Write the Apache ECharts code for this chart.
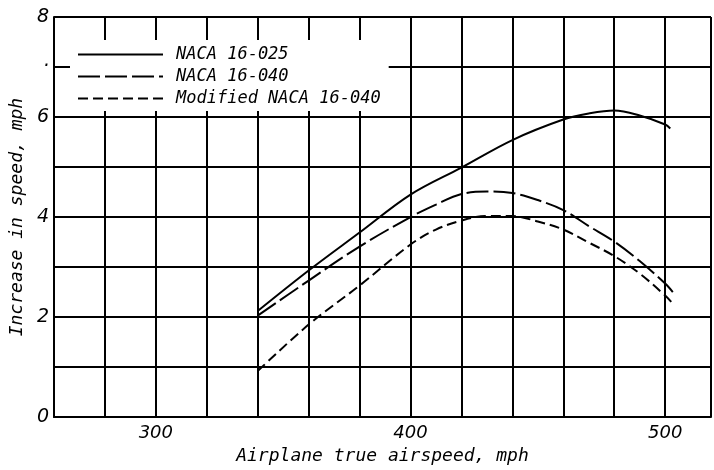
<!DOCTYPE html>
<html><head><meta charset="utf-8">
<script src="https://cdn.jsdelivr.net/npm/echarts@6/dist/echarts.min.js"></script>
<style>html,body{margin:0;padding:0;background:#fff}#c{width:714px;height:470px}</style>
</head><body><div id="c"></div>
<script>
const seriesNames = ['NACA 16-025', 'NACA 16-040', 'Modified NACA 16-040'];
const speed025 = [340, 360, 380, 400, 420, 440, 460, 470, 480, 490, 500, 502];
const inc025   = [2.12, 2.93, 3.69, 4.45, 4.99, 5.54, 5.95, 6.07, 6.13, 6.03, 5.85, 5.77];
const speed040 = [340, 360, 380, 400, 410, 420, 430, 440, 450, 460, 470, 480, 490, 500, 503];
const inc040   = [2.03, 2.73, 3.41, 4.0, 4.25, 4.46, 4.51, 4.48, 4.34, 4.14, 3.82, 3.51, 3.12, 2.67, 2.5];
const speedMod = [340, 360, 380, 400, 410, 420, 430, 440, 450, 460, 470, 480, 490, 500, 503];
const incMod   = [0.92, 1.85, 2.63, 3.45, 3.75, 3.93, 4.02, 4.02, 3.91, 3.75, 3.49, 3.22, 2.87, 2.43, 2.27];
const xTickLabels = [300, 400, 500];
const yTickLabels = [0, 2, 4, 6, 8];
const xTitle = 'Airplane true airspeed, mph';
const yTitle = 'Increase in speed, mph';

const pair = (xs, ys) => xs.map((x, i) => [x, ys[i]]);
const numFont = 'DejaVu Sans';
const txtFont = 'DejaVu Sans Mono';
const dashes = ['solid', [22, 5], [10, 5]];
const dataSets = [pair(speed025, inc025), pair(speed040, inc040), pair(speedMod, incMod)];

const chart = echarts.init(document.getElementById('c'), null, {renderer: 'canvas'});
chart.setOption({
  animation: false,
  backgroundColor: '#fff',
  grid: {left: 52, top: 17, right: 2, bottom: 43},
  legend: {
    orient: 'vertical', left: 70, top: 40,
    padding: [6, 8, 4, 7],
    backgroundColor: '#fff',
    itemWidth: 85, itemHeight: 14, itemGap: 5,
    itemStyle: {opacity: 0},
    textStyle: {fontFamily: txtFont, fontStyle: 'italic', fontSize: 17, color: '#000', padding: [0, 0, 0, 8]},
    data: seriesNames
  },
  xAxis: {
    type: 'value', min: 260, max: 518, interval: 20,
    name: xTitle, nameLocation: 'middle', nameGap: 26,
    nameTextStyle: {fontFamily: txtFont, fontStyle: 'italic', fontSize: 18, color: '#000'},
    axisLine: {show: true, lineStyle: {color: '#000', width: 2}},
    axisTick: {show: false},
    splitLine: {show: true, lineStyle: {color: '#000', width: 2}},
    axisLabel: {
      margin: 7, fontFamily: numFont, fontStyle: 'italic', fontSize: 18, color: '#000',
      formatter: v => xTickLabels.includes(v) ? String(v) : ''
    }
  },
  yAxis: {
    type: 'value', min: 0, max: 8, interval: 1,
    name: yTitle, nameLocation: 'middle', nameGap: 23, nameRotate: 90,
    nameTextStyle: {fontFamily: txtFont, fontStyle: 'italic', fontSize: 18, color: '#000'},
    axisLine: {show: true, lineStyle: {color: '#000', width: 2}},
    axisTick: {show: false},
    splitLine: {show: true, lineStyle: {color: '#000', width: 2}},
    axisLabel: {
      margin: 5, fontFamily: numFont, fontStyle: 'italic', fontSize: 19, color: '#000',
      formatter: v => yTickLabels.includes(v) ? String(v) : (v === 7 ? '·' : '')
    }
  },
  series: seriesNames.map((n, i) => ({
    name: n, type: 'line', data: dataSets[i], smooth: 0.35,
    symbol: 'none', z: 3,
    itemStyle: {color: '#000'},
    lineStyle: {color: '#000', width: 2, type: dashes[i]}
  }))
});
</script></body></html>
